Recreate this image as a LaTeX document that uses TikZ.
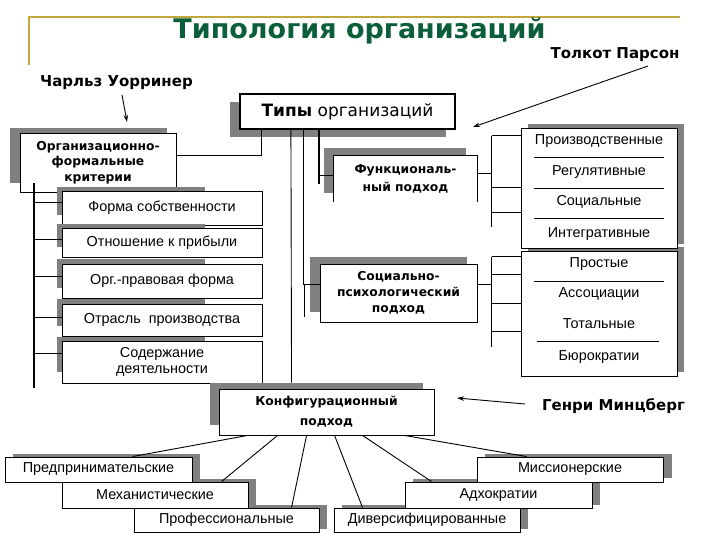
\documentclass[tikz,border=0pt]{standalone}
\usepackage{fontspec}
\setmainfont{Liberation Sans}
\newfontfamily\headfont{DejaVu Sans}
\usetikzlibrary{calc,arrows.meta}
\definecolor{titlegreen}{RGB}{10,95,58}
\definecolor{olivebar}{RGB}{192,168,62}
\definecolor{shadowgray}{RGB}{128,128,128}

\begin{document}
\begin{tikzpicture}[x=1pt,y=-1pt,
  headline/.style={font=\headfont\bfseries\fontsize{27}{30}\selectfont, text=titlegreen, inner sep=0pt},
  author/.style={font=\headfont\bfseries\fontsize{15}{18}\selectfont, inner sep=0pt},
  box/.style={draw, fill=white, line width=0.9pt, inner sep=0pt, align=center, font=\fontsize{14.4}{15.5}\selectfont},
  boldbox/.style={box, font=\headfont\bfseries\fontsize{12.3}{15.5}\selectfont},
  itemtext/.style={inner sep=0pt, font=\fontsize{14.4}{17}\selectfont},
  shd/.style={fill=shadowgray},
  link/.style={line width=0.9pt},
  spine/.style={line width=2pt},
  arr/.style={link, -{Stealth[length=7pt,width=4.5pt]}}]
\useasboundingbox (0,0) rectangle (720,540);
% Title
\draw[olivebar, line width=1.5pt] (29,65) -- (29,17) -- (680,17); % slide frame
\node[headline, anchor=base] (title) at (359.5,39) {Типология организаций};
\node[author, anchor=base] (parsons) at (615,59) {Толкот Парсон};
\node[author, anchor=base] (warriner) at (116.5,87) {Чарльз Уорринер};
\node[author, anchor=base] (mintzberg) at (613.5,410) {Генри Минцберг};
% Types
\fill[shd] (230,102) rectangle (446,137);
\node[box, line width=2.2pt, minimum width=215pt, minimum height=35pt,
  font=\headfont\fontsize{17}{20}\selectfont] (types) at (347.5,111.5) {{\bfseries Типы} организаций};
% Formal criteria
\fill[shd] (10,128) rectangle (167,183);
\node[boldbox, minimum width=156pt, minimum height=59pt] (formal) at (98,162.5) {Организационно-\\формальные\\критерии};
\fill[shd] (57,187) rectangle (205,215);
\node[box, minimum width=200pt, minimum height=34pt] (own) at (162,208) {Форма собственности};
\fill[shd] (57,224) rectangle (205,247);
\node[box, minimum width=200pt, minimum height=29pt] (profit) at (162,242.5) {Отношение к прибыли};
\fill[shd] (57,259) rectangle (205,288);
\node[box, minimum width=200pt, minimum height=34pt] (legal) at (162,281) {Орг.-правовая форма};
\fill[shd] (57,299) rectangle (205,326);
\node[box, minimum width=200pt, minimum height=32pt] (branch) at (162,320) {Отрасль\ \ производства};
\fill[shd] (57,337) rectangle (205,372);
\node[box, minimum width=200pt, minimum height=42pt] (content) at (162,362) {Содержание\\деятельности};
% Functional
\fill[shd] (324,148) rectangle (466,193);
\node[boldbox, draw=none, minimum width=143pt, minimum height=46pt, font=\headfont\bfseries\fontsize{12.3}{18}\selectfont] (func) at (405.5,179) {Функциональ-\\ный подход};
\draw[link] (func.south west) -- (func.north west) -- (func.north east) -- (func.south east); % open at the bottom
% Socio-psychological
\fill[shd] (310,257) rectangle (467,312);
\node[boldbox, minimum width=157pt, minimum height=58pt, font=\headfont\bfseries\fontsize{12.3}{16}\selectfont] (socio) at (398.5,293) {Социально-\\психологический\\подход};
% Configuration
\fill[shd] (210,383) rectangle (423,425);
\node[boldbox, minimum width=215pt, minimum height=46pt, font=\headfont\bfseries\fontsize{12.3}{20}\selectfont] (config) at (326.5,412) {Конфигурационный\\подход};
% Parsons lists
\fill[shd] (528,247) rectangle (684,372);
\node[box, minimum width=156pt, minimum height=125pt] (right2) at (599,313.5) {};
\fill[shd] (528,124) rectangle (684,244);
\node[box, minimum width=156pt, minimum height=120pt] (right1) at (599,188) {};
\node[itemtext] (prod) at (599,141) {Производственные};
\draw[link] (534,157) -- (664,157);
\node[itemtext] (reg) at (599,172) {Регулятивные};
\draw[link] (534,188) -- (664,188);
\node[itemtext] (soc) at (599,202) {Социальные};
\draw[link] (534,218) -- (664,218);
\node[itemtext] (integ) at (599,234) {Интегративные};
\node[itemtext] (simple) at (599,264) {Простые};
\draw[link] (534,281) -- (664,281);
\node[itemtext] (assoc) at (599,294) {Ассоциации};
\node[itemtext] (total) at (599,324) {Тотальные};
\draw[link] (537,341) -- (659,341);
\node[itemtext] (bureau) at (599,357) {Бюрократии};
% Mintzberg configurations
\fill[shd] (142,505) rectangle (327,529);
\node[box, minimum width=185pt, minimum height=24pt] (prof) at (226.5,520) {Профессиональные};
\fill[shd] (70,479) rectangle (256,505);
\node[box, minimum width=186pt, minimum height=26pt] (mech) at (155,495) {Механистические};
\fill[shd] (13,454) rectangle (200,479);
\node[box, minimum width=187pt, minimum height=25pt] (entr) at (98.5,469.5) {Предпринимательские};
\fill[shd] (342,505) rectangle (528,529);
\node[box, minimum width=186pt, minimum height=24pt] (div) at (427,520) {Диверсифицированные};
\fill[shd] (413,479) rectangle (600,505);
\node[box, minimum width=187pt, minimum height=26pt] (adho) at (498.5,495) {Адхократии};
\fill[shd] (485,454) rectangle (672,478);
\node[box, minimum width=186pt, minimum height=25pt] (miss) at (570,469.5) {Миссионерские};
% Connectors from Types
\draw[link] ($(types.south west)+(23,0)$) |- ($(formal.east)+(0,-7.5)$);
\draw[link, shorten >=6pt] ($(types.south west)+(52,0)$) -- ($(config.north west)+(73,0)$);
\draw[link] ($(types.south west)+(65,0)$) |- ($(socio.west)+(0,-9)$);
\draw[link] ($(socio.west)+(-15,-9)$) -- ++(0,33); % tail below
\draw[spine] ($(types.south west)+(80,-2)$) -- ++(0,56);
\draw[link] ($(func.west)+(-14,-4)$) -- ($(func.west)+(0,-4)$);
% Formal criteria list
\draw[spine] ($(formal.south west)+(14,-9)$) -- ++(0,205);
\draw[link] ($(own.west)+(-28,-6)$) -- ($(own.west)+(0,-6)$);
\draw[link] ($(profit.west)+(-28,-3.5)$) -- ($(profit.west)+(0,-3.5)$);
\draw[link] ($(legal.west)+(-28,-5)$) -- ($(legal.west)+(0,-5)$);
\draw[link] ($(branch.west)+(-28,-3)$) -- ($(branch.west)+(0,-3)$);
\draw[link] ($(content.west)+(-28,-9)$) -- ($(content.west)+(0,-9)$);
% Functional -> lists
\draw[link] ($(func.east)+(0,-6)$) -- ++(15,0);
\draw[link] ($(right1.north west)+(-29,8)$) -- ++(0,91);
\draw[link] ($(right1.north west)+(-29,8)$) -- ($(right1.north west)+(0,8)$);
\draw[link] ($(right1.north west)+(-29,60)$) -- ($(right1.north west)+(0,60)$);
\draw[link] ($(right1.north west)+(-29,85)$) -- ($(right1.north west)+(0,85)$);
% Socio -> lists
\draw[link] ($(socio.east)+(0,-9)$) -- ++(15,0);
\draw[link] ($(right2.north west)+(-29,6)$) -- ++(0,90);
\draw[link] ($(right2.north west)+(-29,6)$) -- ($(right2.north west)+(0,6)$);
\draw[link] ($(right2.north west)+(-29,24)$) -- ($(right2.north west)+(0,24)$);
\draw[link] ($(right2.north west)+(-29,53)$) -- ($(right2.north west)+(0,53)$);
\draw[link] ($(right2.north west)+(-29,81)$) -- ($(right2.north west)+(0,81)$);
% Configuration -> types
\draw[link] ($(config.south west)+(29,0)$) -- ($(entr.north west)+(128,0)$);
\draw[link] ($(config.south west)+(59,0)$) -- ($(mech.north west)+(160,0)$);
\draw[link] ($(config.south west)+(88,0)$) -- ($(prof.north west)+(158,0)$);
\draw[link] ($(config.south west)+(116,0)$) -- ($(div.north west)+(29,0)$);
\draw[link] ($(config.south west)+(144,0)$) -- ($(adho.north west)+(27,0)$);
\draw[link] ($(config.south west)+(186,0)$) -- ($(miss.north west)+(50,0)$);
% Author arrows
\coordinate (whead) at (127,122);
\coordinate (phead) at (473,127);
\coordinate (mhead) at (457,398);
\draw[arr] ($(warriner.base)+(5.5,8)$) -- (whead);
\draw[arr] ($(parsons.base)+(33,7)$) -- (phead);
\draw[arr] ($(mintzberg.base)+(-88.5,-6)$) -- (mhead);
\end{tikzpicture}
\end{document}
